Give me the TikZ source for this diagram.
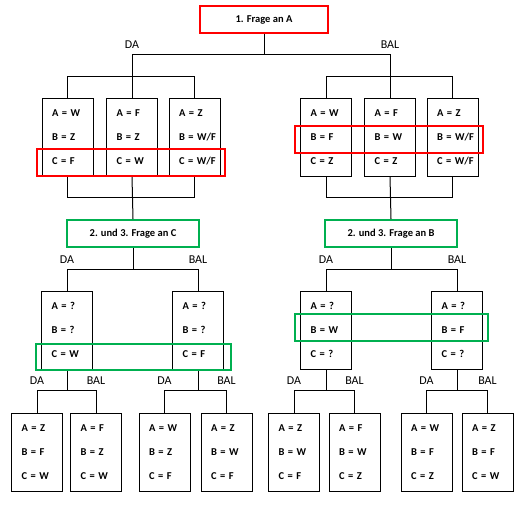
\documentclass[tikz,border=0pt]{standalone}
\usepackage{fontspec}
\setmainfont{Carlito}
\usetikzlibrary{
    positioning,
    calc
    }

\definecolor{markred}{RGB}{255,0,0}
\definecolor{markgreen}{RGB}{0,176,80}

\begin{document}
\begin{tikzpicture}[x=1pt, y=-1pt]
\tikzset{link/.style =
        {
            line width=1pt,
            black
        }
}

\tikzset{card/.style =
        {
            draw,
            line width=1pt,
            minimum height=78pt,
            text width=31pt,
            inner xsep=10pt,
            inner ysep=0pt,
            align=left,
            font=\fontsize{10.5pt}{24pt}\selectfont\bfseries
        }
}

\tikzset{question/.style =
        {
            draw,
            line width=2pt,
            fill=white,
            minimum height=27pt,
            font=\fontsize{10.5pt}{12pt}\selectfont\bfseries
        }
}

\tikzset{answer/.style =
        {
            above=4pt,
            inner sep=1pt,
            font=\fontsize{12pt}{14pt}\selectfont
        }
}

\tikzset{rowmark/.style =
        {
            line width=2pt
        }
}
		\useasboundingbox (0,0) rectangle (527,506);

		% questions
		\node[question, draw=markred, minimum width=128pt] (q1) at (264,19.5) {1. Frage an A};
		\node[question, draw=markgreen, minimum width=132pt] (q2) at (133,233.5) {2. und 3. Frage an C};
		\node[question, draw=markgreen, minimum width=132pt] (q3) at (391,233.5) {2. und 3. Frage an B};

		% cards
		\foreach \name / \x / \y / \va / \vb / \vc in
			{a1/67.5/137/W/Z/F,
				a2/132/137/F/Z/W,
				a3/194.5/137/Z/{W/F}/{W/F},
				a4/326/137/W/F/Z,
				a5/390/137/F/W/Z,
				a6/452.5/137/Z/{W/F}/{W/F},
				c1/67/330/?/?/W,
				c2/198/330/?/?/F,
				b1/326/330/?/W/?,
				b2/457/330/?/F/?,
				l1/37/452/Z/F/W,
				l2/96/452/F/Z/W,
				l3/164.5/452/W/Z/F,
				l4/226.5/452/Z/W/F,
				l5/294/452/Z/W/F,
				l6/354.5/452/F/W/Z,
				l7/426.5/452/W/F/Z,
				l8/487.5/452/Z/F/W}
		\node[card] (\name) at (\x,\y) {A~=~\va\\B~=~\vb\\C~=~\vc};

		% first answer
		\draw[link] (q1.south) -- (q1.south |- 0,54) coordinate (j0);
		\draw[link] (a2.north |- j0) coordinate (da0) -- (a5.north |- j0) coordinate (bal0);
		\draw[link] (da0) -- (a2.north);
		\draw[link] (bal0) -- (a5.north);
		\node[answer] at (da0) (da0-label) {DA};
		\node[answer] at (bal0) (bal0-label) {BAL};

		\foreach \first / \mid / \last / \next in
			{a1/a2/a3/q2,
				a4/a5/a6/q3}
		{
			\draw[link] (\first.north) -- (\first.north |- 0,76) -- (\last.north |- 0,76) -- (\last.north);
			\draw[link] (\first.south) -- (\first.south |- 0,197) -- (\last.south |- 0,197) -- (\last.south);
			\draw[link] (\mid.south) -- (\next.north);
		}

		% second answer
		\foreach \up / \left / \right in
			{q2/c1/c2,
				q3/b1/b2}
		{
			\draw[link] (\up.south) -- (\up.south |- 0,269);
			\draw[link] (\left.north) -- (\left.north |- 0,269) coordinate (\up-da)
				-- (\right.north |- 0,269) coordinate (\up-bal) -- (\right.north);
			\node[answer] at (\up-da) (\up-da-label) {DA};
			\node[answer] at (\up-bal) (\up-bal-label) {BAL};
		}

		% third answer
		\foreach \up / \left / \right in
			{c1/l1/l2,
				c2/l3/l4,
				b1/l5/l6,
				b2/l7/l8}
		{
			\draw[link] (\up.south) -- (\up.south |- 0,390);
			\draw[link] (\left.north) -- (\left.north |- 0,390) coordinate (\up-da)
				-- (\right.north |- 0,390) coordinate (\up-bal) -- (\right.north);
			\node[answer] at (\up-da) (\up-da-label) {DA};
			\node[answer] at (\up-bal) (\up-bal-label) {BAL};
		}

		% highlighted rows
		\draw[rowmark, markred] ($(a1.south west)+(-5,-1)$) rectangle ($(a3.south east)+(4,-28)$);
		\draw[rowmark, markred] ($(a4.north west)+(-5,28)$) rectangle ($(a6.north east)+(4,55)$);
		\draw[rowmark, markgreen] ($(c1.south west)+(-5,0)$) rectangle ($(c2.south east)+(7,-26)$);
		\draw[rowmark, markgreen] ($(b1.north west)+(-5,23)$) rectangle ($(b2.north east)+(5,50)$);

	\end{tikzpicture}
\end{document}
